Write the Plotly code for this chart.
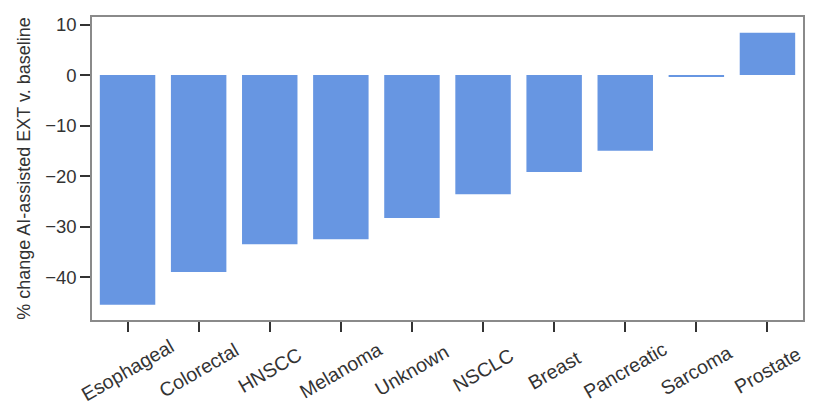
import plotly.graph_objects as go

categories = ["Esophageal", "Colorectal", "HNSCC", "Melanoma", "Unknown",
              "NSCLC", "Breast", "Pancreatic", "Sarcoma", "Prostate"]
values = [-45.5, -39.0, -33.5, -32.5, -28.3, -23.6, -19.2, -15.0, -0.3, 8.4]
y_ticks = [10, 0, -10, -20, -30, -40]
y_label = "% change AI-assisted EXT v. baseline"

fig = go.Figure(go.Bar(
    x=categories, y=values,
    marker=dict(color="#6796E2", line=dict(width=0)),
    width=0.78,
))

# matplotlib-style rotated labels centred under each tick
for cat in categories:
    fig.add_annotation(
        x=cat, xref="x", y=0, yref="paper", yshift=-50,
        text=cat, showarrow=False, textangle=-30,
        xanchor="center", yanchor="middle",
        font=dict(size=19.5, color="#333333"),
    )

fig.update_layout(
    width=831, height=416,
    margin=dict(l=92, r=28, t=17, b=96),
    plot_bgcolor="white", paper_bgcolor="white",
    font=dict(family="Liberation Sans, Arial, sans-serif", color="#333333", size=18),
    showlegend=False,
)
fig.update_xaxes(
    range=[-0.5, 9.5],
    showline=True, linecolor="#8a8a8a", linewidth=1.5, mirror=True,
    ticks="outside", ticklen=10, tickwidth=1.5, tickcolor="#333333",
    showticklabels=False, showgrid=False,
)
fig.update_yaxes(
    range=[-48.5, 11.5],
    tickvals=y_ticks, ticktext=[str(v) if v >= 0 else "\u2212" + str(-v) for v in y_ticks],
    showline=True, linecolor="#8a8a8a", linewidth=1.5, mirror=True,
    ticks="outside", ticklen=10, tickwidth=1.5, tickcolor="#333333",
    showgrid=False, zeroline=False, tickfont=dict(size=18.5),
    title=dict(text=y_label, font=dict(size=18), standoff=10),
)

fig.write_html("out.html")
